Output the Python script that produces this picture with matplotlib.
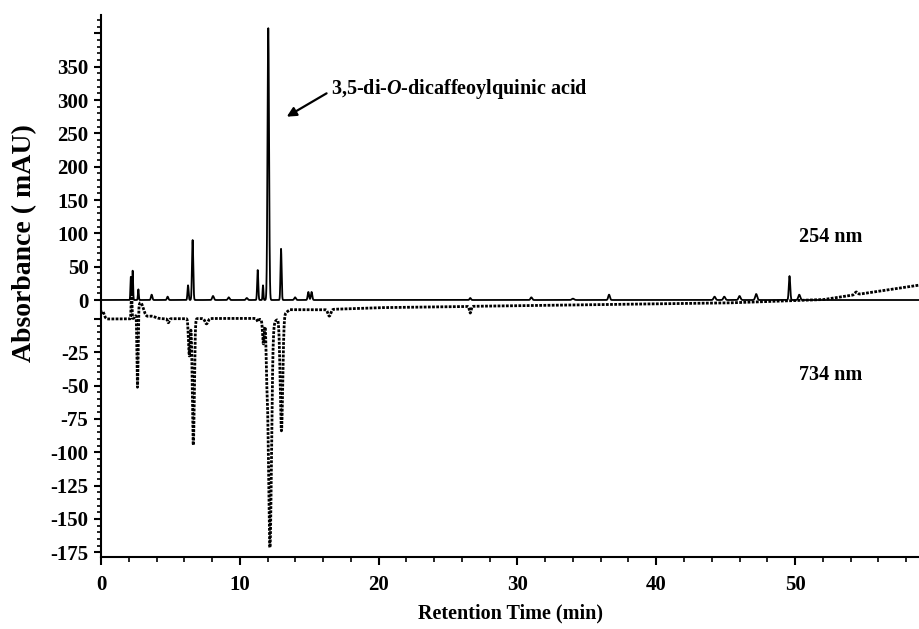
import numpy as np
import matplotlib
matplotlib.use("Agg")
import matplotlib.pyplot as plt
from matplotlib.ticker import FixedLocator, MultipleLocator

plt.rcParams['font.family'] = ['Liberation Serif', 'DejaVu Serif']
plt.rcParams['font.weight'] = 'bold'
plt.rcParams['mathtext.fontset'] = 'custom'
plt.rcParams['mathtext.rm'] = 'Liberation Serif:bold'
plt.rcParams['mathtext.it'] = 'Liberation Serif:bold:italic'

# 254 nm peak table: retention time (min), height (mAU), width (min)
rt_254 = [2.15, 2.28, 2.69, 3.65, 4.8, 6.27, 6.6, 8.07, 9.2, 10.5, 11.29, 11.67,
          12.05, 12.97, 13.98, 14.94, 15.17, 26.6, 31.0, 34.0, 36.6, 44.2, 44.9,
          46.0, 47.2, 49.6, 50.3]
h_254 = [35, 44, 16, 8, 5, 22, 90, 6, 4, 3, 45, 22,
         408, 77, 4, 12, 12, 3, 4, 2, 8, 5, 5,
         6, 9, 36, 8]
w_254 = [0.03, 0.03, 0.03, 0.05, 0.05, 0.04, 0.045, 0.06, 0.06, 0.06, 0.04, 0.03,
         0.055, 0.04, 0.06, 0.05, 0.05, 0.05, 0.06, 0.08, 0.06, 0.07, 0.07,
         0.07, 0.07, 0.05, 0.07]

# 734 nm (ABTS) peak table, negative = scavenging
rt_734 = [0.1, 2.2, 2.63, 2.85, 3.6, 4.85, 6.36, 6.65, 7.6, 11.3, 11.7, 11.94,
          12.17, 13.0, 16.45, 26.6, 54.4]
h_734 = [6, 20, -58, 12, 2, -3, -28, -95, -4, -2, -18, -28,
         -170, -86, -5, -5, 2]
w_734 = [0.12, 0.03, 0.04, 0.2, 0.3, 0.06, 0.06, 0.07, 0.1, 0.05, 0.06, 0.05,
         0.11, 0.09, 0.1, 0.06, 0.1]

# 734 nm baseline drift
base_t = [0, 11.0, 12.5, 13.6, 16, 20, 30, 45, 52, 59]
base_v = [0, 0.5, -2, 7, 7, 8.5, 10, 12, 14.5, 25.5]

t = np.linspace(0, 59, 8000)


def trace(rts, hs, ws):
    y = np.zeros_like(t)
    for r, h, w in zip(rts, hs, ws):
        y += h * np.exp(-0.5 * ((t - r) / w) ** 2)
    return y


y254 = trace(rt_254, h_254, w_254)
y734 = trace(rt_734, h_734, w_734) + np.interp(t, base_t, base_v)

fig = plt.figure(figsize=(9.2, 6.29), dpi=100)
pos = [101 / 920, 72 / 629, 1 - 101 / 920, 542 / 629]
ax = fig.add_axes(pos)
ax2 = fig.add_axes(pos, sharex=ax)
ax2.patch.set_visible(False)

ax.plot(t, y254, color='black', lw=1.3)
ax2.plot(t, y734, color='black', lw=2.0, linestyle=(0, (1.0, 0.5)))

ax.set_xlim(0, 59)
ax.set_ylim(-385.5, 427.5)
ax2.set_ylim(-178.5, 228)

for s in ['top', 'right']:
    ax.spines[s].set_visible(False)
for s in ax2.spines.values():
    s.set_visible(False)
ax.spines['left'].set_linewidth(1.5)
ax.spines['bottom'].set_linewidth(1.5)

ax.xaxis.set_major_locator(MultipleLocator(10))
ax.xaxis.set_minor_locator(MultipleLocator(2))
ax.tick_params(axis='x', which='major', length=6, width=1.5, labelsize=15, pad=7)
ax.tick_params(axis='x', which='minor', length=3.5, width=1.2)
ax2.tick_params(axis='x', which='both', bottom=False, labelbottom=False)

up_major = list(range(0, 401, 50))
ax.yaxis.set_major_locator(FixedLocator(up_major))
ax.yaxis.set_minor_locator(FixedLocator(list(range(0, 421, 10))))
ax.set_yticklabels([str(v) if v < 400 else '' for v in up_major])
lo_major = list(range(-175, 1, 25))
ax2.yaxis.set_major_locator(FixedLocator(lo_major))
ax2.yaxis.set_minor_locator(FixedLocator(list(range(-175, 0, 5))))
ax2.set_yticklabels([str(v) if v < 0 else '' for v in lo_major])
for a in (ax, ax2):
    a.tick_params(axis='y', which='major', length=5, width=1.5, labelsize=15, pad=4)
    a.tick_params(axis='y', which='minor', length=3, width=1.2)

ax.set_xlabel('Retention Time (min)', fontsize=14.5, fontweight='bold', labelpad=6)
ax.set_ylabel('Absorbance ( mAU)', fontsize=20, fontweight='bold')
ax.yaxis.set_label_coords(-0.078, 0.58)

ax.text(16.6, 317, r'3,5-di-$\mathit{O}$-dicaffeoylquinic acid', fontsize=14.5,
        fontweight='bold', va='center', ha='left')
ax.annotate('', xy=(13.38, 275), xytext=(16.25, 310),
            arrowprops=dict(arrowstyle='-|>', color='black', lw=1.6, mutation_scale=14,
                            shrinkA=0, shrinkB=0))
ax.text(50.3, 95, '254 nm', fontsize=14.5, fontweight='bold', va='center', ha='left')
ax2.text(50.3, -42, '734 nm', fontsize=14.5, fontweight='bold', va='center', ha='left')

fig.savefig('out.png', dpi=100)
